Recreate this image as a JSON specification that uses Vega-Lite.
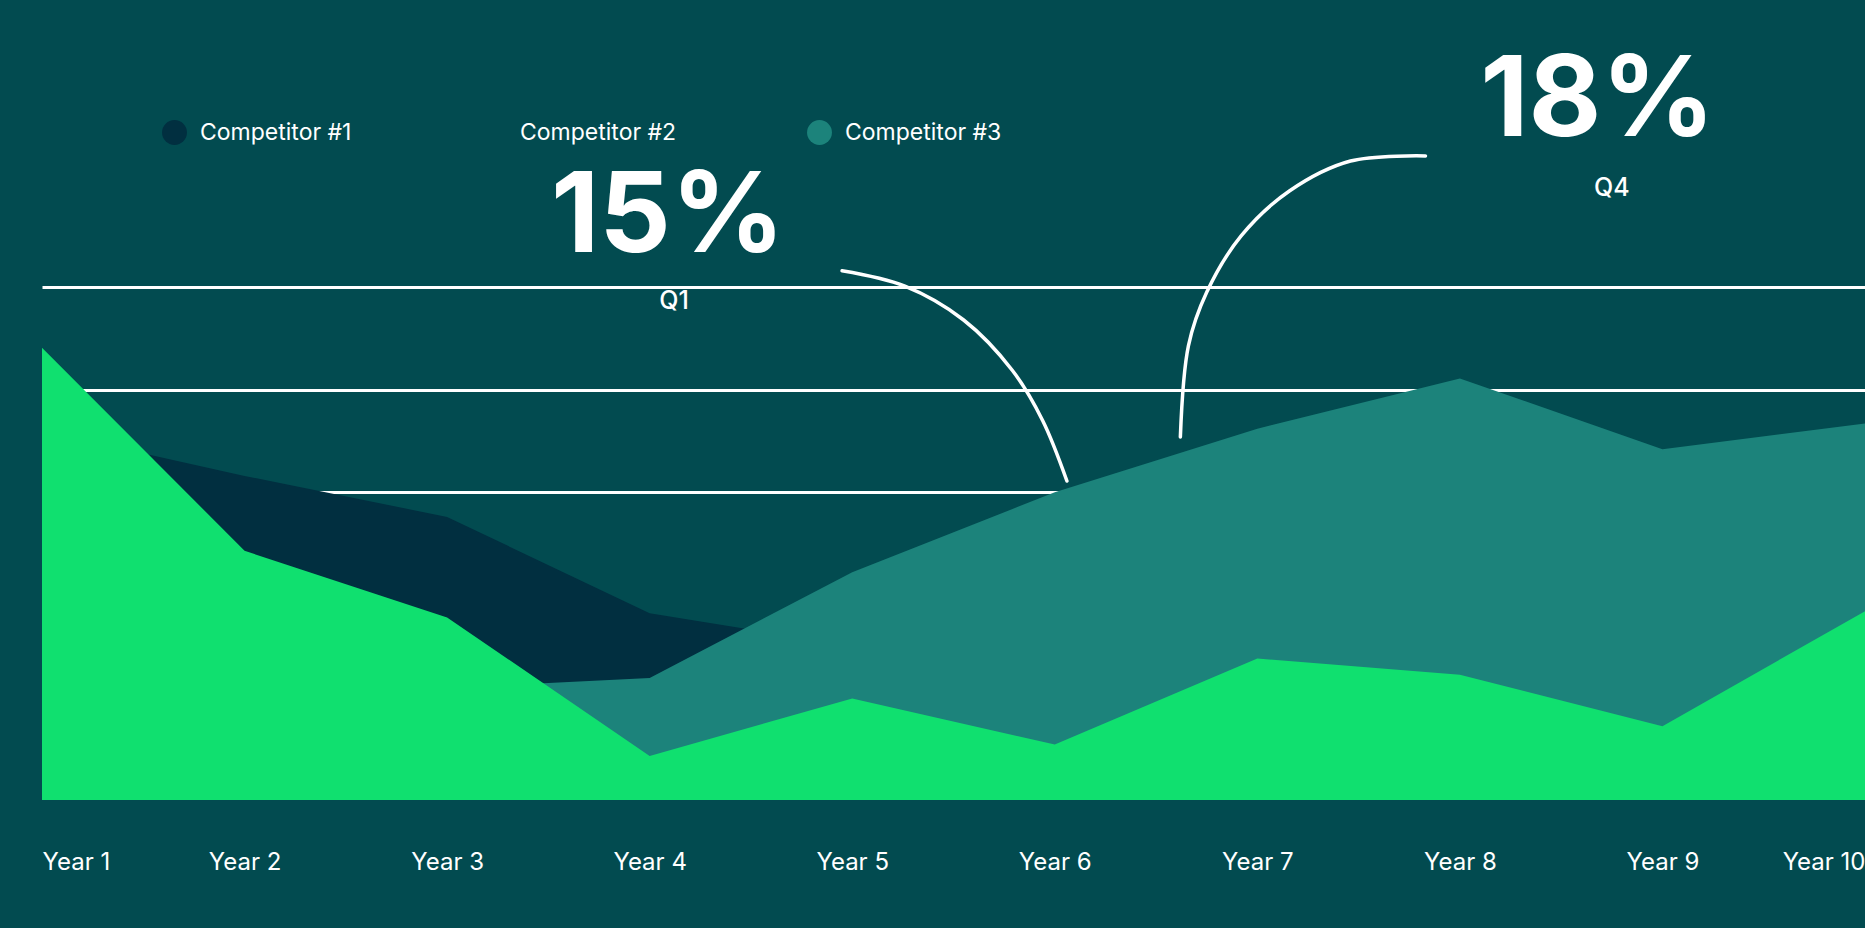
{
  "$schema": "https://vega.github.io/schema/vega-lite/v6.json",
  "width": 1823,
  "height": 800,
  "autosize": {"type": "none"},
  "padding": {"left": 42, "top": 0, "right": 0, "bottom": 128},
  "background": "#024B50",
  "config": {"view": {"stroke": null}, "font": "Inter"},
  "datasets": {
    "main": [
      {"year": 1, "series": "Competitor #1", "value": 36},
      {"year": 2, "series": "Competitor #1", "value": 31.6},
      {"year": 3, "series": "Competitor #1", "value": 27.6},
      {"year": 4, "series": "Competitor #1", "value": 18.2},
      {"year": 5, "series": "Competitor #1", "value": 15},
      {"year": 6, "series": "Competitor #1", "value": 20},
      {"year": 7, "series": "Competitor #1", "value": 24},
      {"year": 8, "series": "Competitor #1", "value": 27},
      {"year": 9, "series": "Competitor #1", "value": 24},
      {"year": 10, "series": "Competitor #1", "value": 26},
      {"year": 1, "series": "Competitor #2", "value": 44.1},
      {"year": 2, "series": "Competitor #2", "value": 24.3},
      {"year": 3, "series": "Competitor #2", "value": 17.8},
      {"year": 4, "series": "Competitor #2", "value": 4.3},
      {"year": 5, "series": "Competitor #2", "value": 9.9},
      {"year": 6, "series": "Competitor #2", "value": 5.4},
      {"year": 7, "series": "Competitor #2", "value": 13.8},
      {"year": 8, "series": "Competitor #2", "value": 12.2},
      {"year": 9, "series": "Competitor #2", "value": 7.2},
      {"year": 10, "series": "Competitor #2", "value": 18.4},
      {"year": 1, "series": "Competitor #3", "value": 8},
      {"year": 2, "series": "Competitor #3", "value": 9},
      {"year": 3, "series": "Competitor #3", "value": 10.9},
      {"year": 4, "series": "Competitor #3", "value": 11.9},
      {"year": 5, "series": "Competitor #3", "value": 22.2},
      {"year": 6, "series": "Competitor #3", "value": 30.0},
      {"year": 7, "series": "Competitor #3", "value": 36.2},
      {"year": 8, "series": "Competitor #3", "value": 41.1},
      {"year": 9, "series": "Competitor #3", "value": 34.2},
      {"year": 10, "series": "Competitor #3", "value": 36.7}
    ],
    "arcs": [
      {"arc": "Q1", "order": 1, "x": 4.95, "y": 51.6},
      {"arc": "Q1", "order": 2, "x": 5.26, "y": 50.1},
      {"arc": "Q1", "order": 3, "x": 5.55, "y": 46.8},
      {"arc": "Q1", "order": 4, "x": 5.79, "y": 41.9},
      {"arc": "Q1", "order": 5, "x": 5.94, "y": 37.0},
      {"arc": "Q1", "order": 6, "x": 6.06, "y": 31.1},
      {"arc": "Q4", "order": 1, "x": 7.83, "y": 62.8},
      {"arc": "Q4", "order": 2, "x": 7.46, "y": 62.3},
      {"arc": "Q4", "order": 3, "x": 7.16, "y": 59.4},
      {"arc": "Q4", "order": 4, "x": 6.92, "y": 55.0},
      {"arc": "Q4", "order": 5, "x": 6.75, "y": 49.5},
      {"arc": "Q4", "order": 6, "x": 6.66, "y": 44.3},
      {"arc": "Q4", "order": 7, "x": 6.62, "y": 35.4}
    ],
    "notes": [
      {"x": 4.09, "y": 56.7, "label": "15%", "kind": "big"},
      {"x": 4.12, "y": 48.7, "label": "Q1", "kind": "small"},
      {"x": 8.68, "y": 68.1, "label": "18%", "kind": "big"},
      {"x": 8.75, "y": 59.7, "label": "Q4", "kind": "small"}
    ]
  },
  "layer": [
    {
      "data": {"name": "main"},
      "transform": [{"filter": "datum.series === 'Competitor #1'"}],
      "mark": {"type": "area", "opacity": 1},
      "encoding": {
        "x": {
          "field": "year", "type": "quantitative",
          "scale": {"domain": [1, 10], "nice": false, "zero": false},
          "axis": {
            "values": [1, 2, 3, 4, 5, 6, 7, 8, 9, 10],
            "labelExpr": "'Year ' + datum.value",
            "domain": false, "ticks": false, "grid": false,
            "labelColor": "white", "labelFontSize": 24, "labelFont": "Inter",
            "labelPadding": 50, "title": null,
            "labelFlush": true, "labelBound": false, "labelOverlap": false
          }
        },
        "y": {
          "field": "value", "type": "quantitative", "stack": null,
          "scale": {"domain": [0, 78], "nice": false},
          "axis": {
            "values": [30, 40, 50], "grid": true, "gridColor": "white",
            "gridWidth": 3, "gridOpacity": 1, "domain": false, "ticks": false,
            "labels": false, "title": null
          }
        },
        "color": {
          "field": "series", "type": "nominal",
          "scale": {
            "domain": ["Competitor #1", "Competitor #2", "Competitor #3"],
            "range": ["#012F40", "#10E06F", "#1C837B"]
          },
          "legend": {
            "orient": "none", "legendX": 120, "legendY": 120,
            "direction": "horizontal", "title": null,
            "labelColor": "white", "labelFontSize": 23, "labelFont": "Inter",
            "symbolType": "circle", "symbolSize": 620, "symbolStrokeWidth": 0,
            "symbolOpacity": 1,
            "labelOffset": 13, "columnPadding": 130, "padding": 0, "labelLimit": 300,
            "encode": {"symbols": {"update": {"opacity": {"signal": "datum.label === 'Competitor #2' ? 0 : 1"}}}}
          }
        }
      }
    },
    {
      "data": {"name": "main"},
      "transform": [{"filter": "datum.series === 'Competitor #3'"}],
      "mark": {"type": "area", "opacity": 1},
      "encoding": {
        "x": {"field": "year", "type": "quantitative"},
        "y": {"field": "value", "type": "quantitative", "stack": null},
        "color": {"field": "series", "type": "nominal"}
      }
    },
    {
      "data": {"name": "main"},
      "transform": [{"filter": "datum.series === 'Competitor #2'"}],
      "mark": {"type": "area", "opacity": 1},
      "encoding": {
        "x": {"field": "year", "type": "quantitative"},
        "y": {"field": "value", "type": "quantitative", "stack": null},
        "color": {"field": "series", "type": "nominal"}
      }
    },
    {
      "data": {"name": "arcs"},
      "mark": {"type": "line", "interpolate": "catmull-rom", "color": "white", "strokeWidth": 3.5, "strokeCap": "round"},
      "encoding": {
        "x": {"field": "x", "type": "quantitative"},
        "y": {"field": "y", "type": "quantitative"},
        "detail": {"field": "arc", "type": "nominal"},
        "order": {"field": "order", "type": "quantitative"}
      }
    },
    {
      "data": {"name": "notes"},
      "transform": [{"filter": "datum.kind === 'big'"}],
      "mark": {"type": "text", "color": "white", "font": "Inter", "fontWeight": 700, "fontSize": 112, "align": "center", "baseline": "middle"},
      "encoding": {
        "x": {"field": "x", "type": "quantitative"},
        "y": {"field": "y", "type": "quantitative"},
        "text": {"field": "label"}
      }
    },
    {
      "data": {"name": "notes"},
      "transform": [{"filter": "datum.kind === 'small'"}],
      "mark": {"type": "text", "color": "white", "font": "Inter", "fontWeight": 500, "fontSize": 25, "align": "center", "baseline": "middle"},
      "encoding": {
        "x": {"field": "x", "type": "quantitative"},
        "y": {"field": "y", "type": "quantitative"},
        "text": {"field": "label"}
      }
    }
  ]
}
